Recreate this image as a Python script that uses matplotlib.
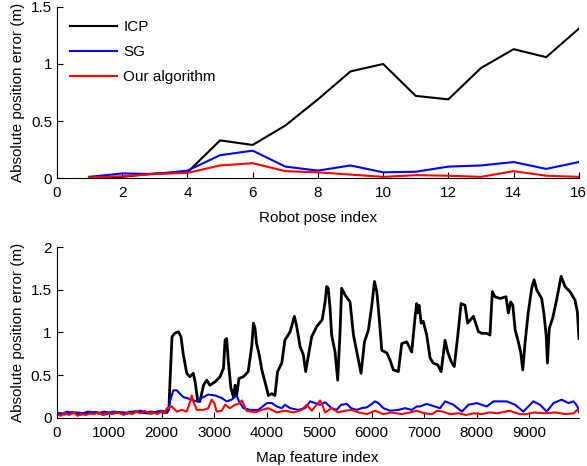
import matplotlib.pyplot as plt

plt.rcParams['font.family'] = ['Liberation Sans', 'DejaVu Sans']
plt.rcParams['font.size'] = 11

# top panel: error per robot pose
pose = [1, 2, 3, 4, 5, 6, 7, 8, 9, 10, 11, 12, 13, 14, 15, 16]
pose_icp = [0.01, 0.01, 0.04, 0.05, 0.33, 0.29, 0.46, 0.69, 0.935, 1.00, 0.72, 0.69, 0.965, 1.13, 1.06, 1.31]
pose_sg = [0.01, 0.04, 0.035, 0.065, 0.20, 0.24, 0.10, 0.065, 0.11, 0.05, 0.055, 0.10, 0.11, 0.14, 0.08, 0.14]
pose_ours = [0.005, 0.015, 0.035, 0.045, 0.11, 0.13, 0.06, 0.05, 0.03, 0.01, 0.025, 0.02, 0.01, 0.06, 0.02, 0.01]

# bottom panel: error per map feature
icp_idx = [0, 150, 300, 450, 600, 750, 900, 1050, 1200, 1350, 1500, 1650, 1800, 1950, 2100, 2140,
           2170, 2200, 2250, 2320, 2370, 2415, 2480, 2540, 2605, 2640, 2690, 2730, 2800, 2860, 2920,
           3020, 3115, 3180, 3210, 3240, 3270, 3320, 3370, 3400, 3430, 3475, 3560, 3650, 3720, 3750,
           3780, 3810, 3860, 3910, 3970, 4035, 4100, 4160, 4210, 4290, 4350, 4450, 4530, 4575, 4640,
           4700, 4745, 4800, 4860, 4955, 5060, 5115, 5145, 5175, 5210, 5240, 5305, 5355, 5400, 5430,
           5495, 5590, 5655, 5720, 5800, 5865, 5940, 6005, 6055, 6100, 6140, 6195, 6290, 6350, 6415,
           6510, 6575, 6670, 6765, 6830, 6860, 6880, 6905, 6945, 6985, 7050, 7115, 7175, 7260, 7325,
           7400, 7450, 7515, 7575, 7640, 7705, 7780, 7830, 7940, 8035, 8100, 8195, 8255, 8300, 8350,
           8450, 8560, 8605, 8650, 8690, 8735, 8795, 8840, 8880, 8925, 8985, 9050, 9095, 9145, 9240,
           9285, 9325, 9350, 9385, 9450, 9530, 9610, 9685, 9780, 9875, 9920, 9950]
icp_err = [0.05, 0.04, 0.06, 0.04, 0.05, 0.06, 0.04, 0.05, 0.06, 0.05, 0.07, 0.06, 0.05, 0.07, 0.06, 0.10,
           0.55, 0.95, 0.99, 1.01, 0.95, 0.74, 0.52, 0.48, 0.52, 0.42, 0.19, 0.19, 0.38, 0.44, 0.38,
           0.42, 0.48, 0.58, 0.91, 0.93, 0.68, 0.35, 0.24, 0.38, 0.26, 0.46, 0.48, 0.54, 0.85, 1.11,
           1.05, 0.87, 0.74, 0.56, 0.42, 0.26, 0.28, 0.26, 0.54, 0.64, 0.91, 1.01, 1.19, 1.07, 0.83,
           0.74, 0.54, 0.74, 0.95, 1.07, 1.15, 1.36, 1.54, 1.52, 1.28, 0.97, 0.77, 0.44, 1.01, 1.52,
           1.44, 1.36, 0.97, 0.77, 0.52, 0.89, 1.03, 1.32, 1.60, 1.48, 1.21, 0.79, 0.76, 0.68, 0.56,
           0.54, 0.87, 0.89, 0.77, 1.19, 1.34, 1.23, 1.32, 1.11, 1.13, 0.97, 0.70, 0.64, 0.62, 0.54,
           0.91, 0.77, 0.66, 0.60, 0.95, 1.34, 1.32, 1.11, 1.19, 1.01, 0.99, 0.99, 0.97, 1.48, 1.42,
           1.40, 1.42, 1.23, 1.36, 1.32, 1.03, 0.89, 0.77, 0.56, 0.89, 1.24, 1.52, 1.62, 1.50, 1.40,
           1.21, 0.97, 0.64, 1.05, 1.17, 1.40, 1.66, 1.54, 1.48, 1.38, 1.24, 0.93]

sg_idx = [0, 100, 200, 300, 400, 500, 600, 700, 800, 900, 1000, 1100, 1200, 1300, 1400, 1500, 1600,
          1700, 1800, 1900, 2000, 2100, 2140, 2160, 2225, 2290, 2350, 2415, 2480, 2575, 2670, 2765,
          2890, 3020, 3145, 3240, 3335, 3430, 3475, 3560, 3685, 3845, 4005, 4100, 4195, 4290, 4350,
          4450, 4605, 4735, 4830, 4925, 5020, 5115, 5240, 5335, 5420, 5530, 5610, 5720, 5810, 5910,
          6005, 6065, 6130, 6225, 6350, 6510, 6640, 6765, 6860, 6920, 7050, 7150, 7305, 7400, 7560,
          7720, 7845, 8005, 8195, 8320, 8450, 8575, 8735, 8890, 9080, 9210, 9335, 9465, 9620, 9750,
          9845, 9900, 9950]
sg_err = [0.06, 0.04, 0.07, 0.05, 0.06, 0.05, 0.07, 0.06, 0.05, 0.07, 0.06, 0.07, 0.06, 0.05, 0.07, 0.06, 0.08,
          0.06, 0.07, 0.06, 0.08, 0.07, 0.09, 0.19, 0.32, 0.32, 0.28, 0.24, 0.23, 0.21, 0.19, 0.23,
          0.27, 0.26, 0.23, 0.19, 0.21, 0.26, 0.19, 0.11, 0.09, 0.09, 0.17, 0.17, 0.13, 0.11, 0.15,
          0.11, 0.09, 0.11, 0.19, 0.17, 0.15, 0.18, 0.11, 0.09, 0.15, 0.16, 0.11, 0.09, 0.11, 0.12,
          0.16, 0.19, 0.17, 0.11, 0.08, 0.09, 0.11, 0.09, 0.13, 0.13, 0.16, 0.14, 0.11, 0.19, 0.15,
          0.07, 0.15, 0.17, 0.13, 0.19, 0.19, 0.19, 0.15, 0.07, 0.19, 0.15, 0.07, 0.17, 0.21, 0.17,
          0.19, 0.15, 0.09]

ours_idx = [0, 80, 160, 240, 320, 400, 480, 560, 640, 720, 800, 880, 960, 1040, 1120, 1200, 1280, 1360,
            1440, 1520, 1600, 1680, 1760, 1840, 1920, 2000, 2060, 2100, 2195, 2290, 2385, 2480, 2545,
            2575, 2605, 2670, 2800, 2890, 2955, 3005, 3050, 3145, 3210, 3300, 3400, 3465, 3530, 3620,
            3780, 3910, 4035, 4195, 4350, 4510, 4670, 4765, 4860, 5020, 5060, 5115, 5240, 5365, 5495,
            5620, 5750, 5910, 6065, 6225, 6380, 6575, 6735, 6860, 7000, 7150, 7250, 7350, 7500, 7650,
            7800, 7950, 8100, 8250, 8400, 8630, 8820, 8950, 9100, 9300, 9500, 9700, 9850, 9915, 9950]
ours_err = [0.04, 0.02, 0.05, 0.03, 0.06, 0.02, 0.04, 0.03, 0.05, 0.04, 0.06, 0.03, 0.05, 0.04, 0.06, 0.05, 0.03, 0.06,
            0.04, 0.07, 0.05, 0.08, 0.05, 0.06, 0.04, 0.07, 0.05, 0.11, 0.13, 0.07, 0.09, 0.07, 0.19,
            0.26, 0.19, 0.09, 0.09, 0.11, 0.21, 0.17, 0.07, 0.08, 0.15, 0.11, 0.15, 0.16, 0.20, 0.08,
            0.06, 0.09, 0.11, 0.06, 0.08, 0.06, 0.09, 0.15, 0.08, 0.20, 0.15, 0.06, 0.11, 0.06, 0.08,
            0.09, 0.06, 0.04, 0.08, 0.04, 0.06, 0.04, 0.06, 0.08, 0.05, 0.04, 0.08, 0.07, 0.04, 0.05,
            0.03, 0.05, 0.04, 0.06, 0.05, 0.08, 0.04, 0.04, 0.06, 0.05, 0.06, 0.04, 0.05, 0.09, 0.06]


def matlab_axes(ax):
    ax.spines['top'].set_visible(False)
    ax.spines['right'].set_visible(False)
    ax.tick_params(direction='in', length=4, width=0.8, labelsize=11)
    ax.tick_params(axis='x', pad=6)


fig = plt.figure(figsize=(5.87, 4.66), dpi=100)
ax1 = fig.add_axes([0.0971, 0.618, 0.889, 0.367])
ax2 = fig.add_axes([0.0963, 0.104, 0.890, 0.365])

ax1.plot(pose, pose_icp, color='black', lw=1.5, label='ICP')
ax1.plot(pose, pose_sg, color='blue', lw=1.5, label='SG')
ax1.plot(pose, pose_ours, color='red', lw=1.5, label='Our algorithm')
ax1.set_xlim(0, 16)
ax1.set_ylim(0, 1.5)
ax1.set_xticks(range(0, 17, 2))
ax1.set_yticks([0, 0.5, 1, 1.5])
ax1.set_yticklabels(['0', '0.5', '1', '1.5'])
ax1.set_xlabel('Robot pose index', labelpad=8)
ax1.set_ylabel('Absolute position error (m)', labelpad=4)
ax1.legend(loc='upper left', frameon=False, handlelength=3.1, labelspacing=0.72,
           borderaxespad=0.45, handletextpad=0.4, fontsize=11)
matlab_axes(ax1)

ax2.plot(icp_idx, icp_err, color='black', lw=2)
ax2.plot(sg_idx, sg_err, color='blue', lw=1.5)
ax2.plot(ours_idx, ours_err, color='red', lw=1.5)
ax2.set_xlim(0, 9950)
ax2.set_ylim(0, 2)
ax2.set_xticks(range(0, 10000, 1000))
ax2.set_yticks([0, 0.5, 1, 1.5, 2])
ax2.set_yticklabels(['0', '0.5', '1', '1.5', '2'])
ax2.set_xlabel('Map feature index', labelpad=8)
ax2.set_ylabel('Absolute position error (m)', labelpad=4)
matlab_axes(ax2)

fig.savefig('out.png', dpi=100)
